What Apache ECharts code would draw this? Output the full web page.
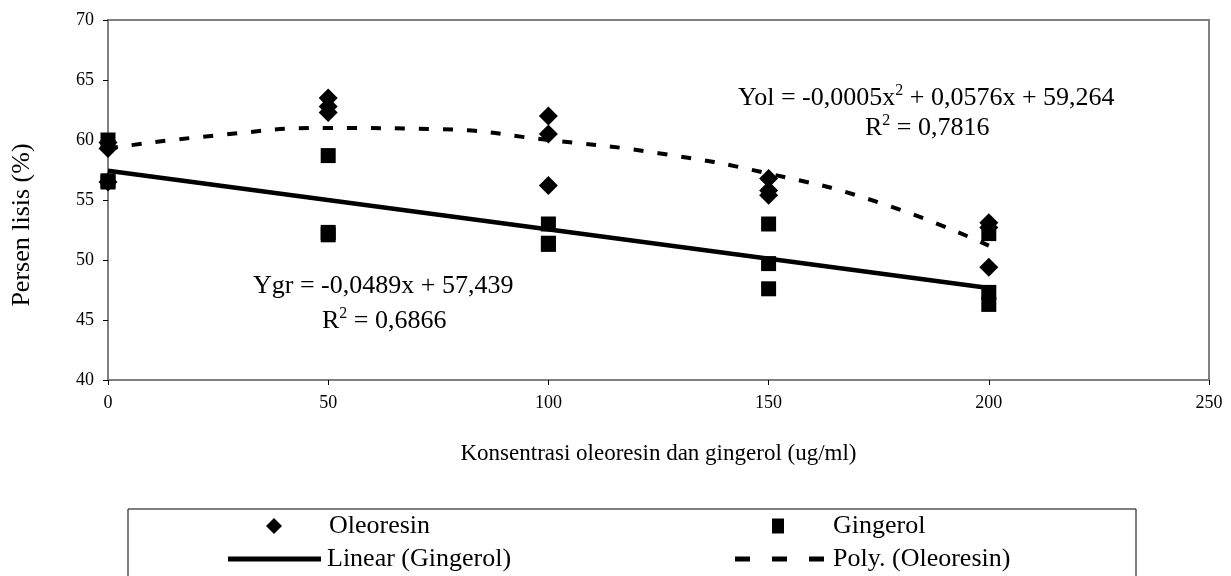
<!DOCTYPE html>
<html>
<head>
<meta charset="utf-8">
<script src="https://cdn.jsdelivr.net/npm/echarts@6/dist/echarts.min.js"></script>
<style>
  html, body { margin: 0; padding: 0; background: #fff; }
  #chart { width: 1231px; height: 576px; }
</style>
</head>
<body>
<div id="chart"></div>
<script>
// titik data (x = konsentrasi, y = persen lisis)
var oleoresinData = [
  [0, 59.8], [0, 59.3], [0, 56.5],
  [50, 63.5], [50, 62.8], [50, 62.3],
  [100, 62.0], [100, 60.5], [100, 56.2],
  [150, 56.8], [150, 55.8], [150, 55.4],
  [200, 53.1], [200, 52.7], [200, 49.4]
]
var gingerolData = [
  [0, 60.0], [0, 56.6], [0, 56.5],
  [50, 58.7], [50, 52.3], [50, 52.1],
  [100, 53.0], [100, 51.4], [100, 51.3],
  [150, 53.0], [150, 49.7], [150, 47.6],
  [200, 52.2], [200, 47.3], [200, 46.3]
]
// garis tren
var linearGingerol = [[0, 57.44], [200, 47.66]]
var polyOleoresin = [
  [0, 59.3], [25, 60.4], [50, 61.0], [75, 60.9], [100, 60.0],
  [125, 58.9], [150, 57.2], [175, 54.8], [200, 51.2]
]
var xTicks = [0, 250, 50]   // min, max, interval
var yTicks = [40, 70, 5]

var serif = 'Liberation Serif, Times New Roman, serif'
var axisGray = '#808080'

var myChart = echarts.init(document.getElementById('chart'))

var legendBase = function (item, left, top, w, h, pad) {
  return {
    data: [item],
    left: left,
    top: top,
    itemWidth: w,
    itemHeight: h,
    padding: 0,
    selectedMode: false,
    textStyle: { fontFamily: serif, fontSize: 26, color: '#000', padding: [0, 0, 0, pad] }
  }
}

var richEq = {
  a: { fontFamily: serif, fontSize: 26, color: '#000', lineHeight: 32 },
  s: { fontFamily: serif, fontSize: 16, color: '#000', lineHeight: 32, padding: [0, 0, 14, 0] }
}

var option = {
  animation: false,
  backgroundColor: '#fff',
  grid: {
    left: 108,
    right: 22,
    top: 20,
    bottom: 196,
    show: true,
    borderColor: axisGray,
    borderWidth: 2
  },
  xAxis: {
    type: 'value',
    min: xTicks[0],
    max: xTicks[1],
    interval: xTicks[2],
    name: 'Konsentrasi oleoresin dan gingerol (ug/ml)',
    nameLocation: 'middle',
    nameGap: 62,
    nameTextStyle: { fontFamily: serif, fontSize: 23, color: '#000' },
    axisLine: { lineStyle: { color: axisGray, width: 2 } },
    axisTick: { lineStyle: { color: '#000' }, length: 5 },
    axisLabel: { fontFamily: serif, fontSize: 18, color: '#000', margin: 14 },
    splitLine: { show: false }
  },
  yAxis: {
    type: 'value',
    min: yTicks[0],
    max: yTicks[1],
    interval: yTicks[2],
    axisLine: { show: true, lineStyle: { color: axisGray, width: 2 } },
    axisTick: { show: true, lineStyle: { color: '#000' }, length: 5 },
    axisLabel: { fontFamily: serif, fontSize: 18, color: '#000', margin: 14 },
    splitLine: { show: false }
  },
  legend: [
    legendBase({ name: 'Oleoresin', icon: 'diamond' }, 266, 513, 16, 16, 42),
    legendBase({ name: 'Gingerol', icon: 'rect' }, 772, 513, 12, 15, 44),
    legendBase({ name: 'Linear (Gingerol)', icon: 'rect' }, 228, 546, 93, 5, 1),
    legendBase({ name: 'Poly. (Oleoresin)', icon: 'path://M0,0h15v5h-15z M37,0h15v5h-15z M74,0h15v5h-15z' }, 735, 546, 89, 5, 4)
  ],
  graphic: [
    {
      type: 'rect',
      shape: { x: 128, y: 509, width: 1008, height: 80 },
      style: { fill: 'none', stroke: '#000', lineWidth: 1 },
      silent: true
    },
    {
      // judul sumbu Y
      type: 'text',
      x: 22,
      y: 225,
      rotation: Math.PI / 2,
      style: {
        text: 'Persen lisis (%)',
        fontFamily: serif,
        fontSize: 26,
        fill: '#000',
        align: 'center',
        verticalAlign: 'middle'
      }
    },
    {
      type: 'text',
      left: 738,
      top: 83,
      style: { rich: richEq, text: '{a|Yol = -0,0005x}{s|2}{a| + 0,0576x + 59,264}' }
    },
    {
      type: 'text',
      left: 865,
      top: 113,
      style: { rich: richEq, text: '{a|R}{s|2}{a| = 0,7816}' }
    },
    {
      type: 'text',
      left: 253,
      top: 273,
      style: { rich: richEq, text: '{a|Ygr = -0,0489x + 57,439}' }
    },
    {
      type: 'text',
      left: 322,
      top: 306,
      style: { rich: richEq, text: '{a|R}{s|2}{a| = 0,6866}' }
    }
  ],
  series: [
    {
      name: 'Linear (Gingerol)',
      type: 'line',
      data: linearGingerol,
      symbol: 'none',
      lineStyle: { color: '#000', width: 4.5 },
      itemStyle: { color: '#000' },
      z: 2
    },
    {
      name: 'Poly. (Oleoresin)',
      type: 'line',
      data: polyOleoresin,
      smooth: true,
      symbol: 'none',
      lineStyle: { color: '#000', width: 4, type: [10, 14] },
      itemStyle: { color: '#000' },
      z: 2
    },
    {
      name: 'Oleoresin',
      type: 'scatter',
      data: oleoresinData,
      symbol: 'diamond',
      symbolSize: 19,
      itemStyle: { color: '#000', opacity: 1 },
      z: 3
    },
    {
      name: 'Gingerol',
      type: 'scatter',
      data: gingerolData,
      symbol: 'rect',
      symbolSize: 15,
      itemStyle: { color: '#000', opacity: 1 },
      z: 3
    }
  ]
}
myChart.setOption(option)
</script>
</body>
</html>
